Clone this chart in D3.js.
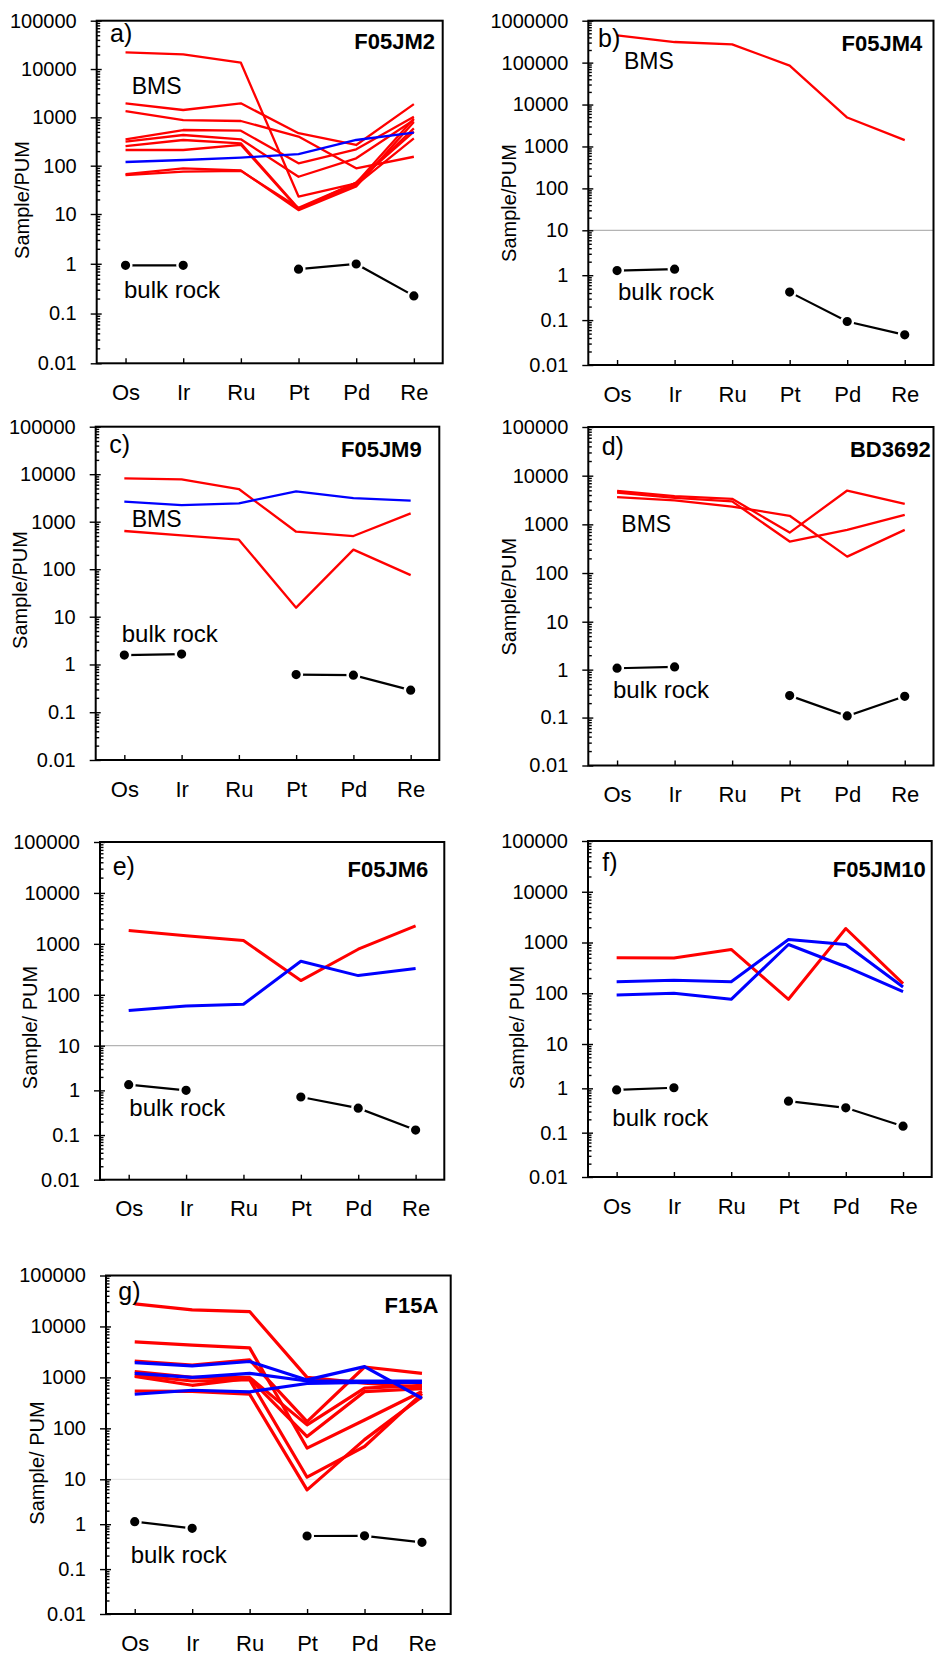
<!DOCTYPE html>
<html>
<head>
<meta charset="utf-8">
<style>
  body { margin: 0; background: #fff; }
  text { font-family: 'Liberation Sans', Arial, Helvetica, sans-serif; fill: #000; }
  .frame { fill: none; stroke: #000; stroke-width: 2; }
  .axis line { stroke: #000; stroke-width: 1.4; }
  .axis .domain { display: none; }
</style>
</head>
<body>
<svg id="chart"></svg>
<script src="https://d3js.org/d3.v7.min.js"></script>
<script>
var width = 938, height = 1656;

var elements = ['Os', 'Ir', 'Ru', 'Pt', 'Pd', 'Re'];

// a) F05JM2
var redA = [
  [22200, 20100, 13500, 23, 43, 590],
  [1950, 1420, 1950, 470, 268, 1880],
  [1350, 880, 840, 400, 88, 153],
  [351, 547, 530, 112, 218, 1030],
  [313, 431, 351, 59, 142, 880],
  [255, 340, 290, 13, 40, 368],
  [211, 211, 270, 12.5, 45, 505],
  [67, 88, 80, 12, 37, 800],
  [64, 75, 78, 13.5, 44, 950]
];
var blueA = [[119, 131, 147, 174, 340, 482]];
var bulkA = [0.93, 0.93, null, 0.78, 0.99, 0.226];

// b) F05JM4
var redB = [[448000, 310000, 273000, 84900, 4900, 1415]];
var blueB = [];
var bulkB = [1.27, 1.36, null, 0.42, 0.093, 0.047];

// c) F05JM9
var redC = [
  [8170, 7780, 4870, 615, 499, 1496],
  [637, 516, 418, 15.5, 258, 75]
];
var blueC = [[2636, 2244, 2433, 4352, 3148, 2767]];
var bulkC = [1.57, 1.65, null, 0.615, 0.596, 0.29];

// d) BD3692
var redD = [
  [4890, 3800, 3350, 678, 4950, 2640],
  [4510, 3500, 2960, 443, 770, 1570],
  [3630, 3100, 2320, 1500, 217, 770]
];
var blueD = [];
var bulkD = [1.07, 1.14, null, 0.287, 0.108, 0.278];

// e) F05JM6
var redE = [[1830, 1436, 1163, 190, 785, 2259]];
var blueE = [[48.9, 60.3, 65, 456, 238, 327]];
var bulkE = [1.34, 1.0, null, 0.71, 0.40, 0.129];

// f) F05JM10
var redF = [[500, 493, 729, 76, 1884, 155]];
var blueF = [
  [169, 180, 169, 1146, 914, 133],
  [92.7, 100, 76, 914, 333, 108]
];
var bulkF = [0.92, 1.03, null, 0.513, 0.364, 0.14];

// g) F15A
var redG = [
  [27800, 21200, 19600, 1000, 770, 640],
  [5000, 4300, 3800, 41, 146, 530],
  [2100, 1750, 2200, 136, 1600, 1200],
  [1300, 1000, 1000, 117, 614, 700],
  [1040, 700, 950, 69, 526, 600],
  [1100, 850, 900, 11, 44, 480],
  [540, 530, 470, 6.2, 60, 420]
];
var blueG = [
  [1950, 1680, 2050, 893, 1630, 390],
  [1200, 1000, 1200, 850, 850, 850],
  [467, 560, 520, 760, 800, 800]
];
var bulkG = [1.14, 0.81, null, 0.546, 0.55, 0.395];

// panel layout
var panels = [
  { letter: 'a)', sample: 'F05JM2', red: redA, blue: blueA, bulk: bulkA, max: 1e5, lw: 2.3, split: null,
    left: 96.7, right: 442.7, top: 20.7, mid: 214, bottom: 363.3, yTitle: 'Sample/PUM',
    titlePos: [21.7, 200], letterPos: [110, 42], namePos: [435, 49], bmsPos: [131.7, 94.3], bulkPos: [124, 297.7] },
  { letter: 'b)', sample: 'F05JM4', red: redB, blue: blueB, bulk: bulkB, max: 1e6, lw: 2.3, split: '#b4b4b4',
    left: 588.3, right: 933.5, top: 20.7, mid: 230.3, bottom: 365, yTitle: 'Sample/PUM',
    titlePos: [509, 203], letterPos: [598, 46.7], namePos: [922.3, 50.5], bmsPos: [624, 69.3], bulkPos: [618, 300] },
  { letter: 'c)', sample: 'F05JM9', red: redC, blue: blueC, bulk: bulkC, max: 1e5, lw: 2.3, split: null,
    left: 95.7, right: 439.3, top: 426.7, mid: 616.7, bottom: 760, yTitle: 'Sample/PUM',
    titlePos: [20, 590], letterPos: [109.3, 453.3], namePos: [421.7, 457.3], bmsPos: [131.7, 526.7], bulkPos: [121.7, 641.7] },
  { letter: 'd)', sample: 'BD3692', red: redD, blue: blueD, bulk: bulkD, max: 1e5, lw: 2.3, split: null,
    left: 588.3, right: 933.5, top: 427, mid: 621.7, bottom: 765.5, yTitle: 'Sample/PUM',
    titlePos: [509, 596.7], letterPos: [601.7, 455], namePos: [930.7, 456.7], bmsPos: [621.3, 531.7], bulkPos: [613, 698.3] },
  { letter: 'e)', sample: 'F05JM6', red: redE, blue: blueE, bulk: bulkE, max: 1e5, lw: 3, split: '#b4b4b4',
    left: 100, right: 444.3, top: 842, mid: 1045.7, bottom: 1179.7, yTitle: 'Sample/ PUM',
    titlePos: [30, 1027.5], letterPos: [112.7, 875], namePos: [428.3, 876.7], bmsPos: null, bulkPos: [129.3, 1116] },
  { letter: 'f)', sample: 'F05JM10', red: redF, blue: blueF, bulk: bulkF, max: 1e5, lw: 3, split: null,
    left: 588, right: 931.7, top: 841, mid: 1044, bottom: 1177, yTitle: 'Sample/ PUM',
    titlePos: [517.3, 1027.5], letterPos: [602.3, 870.5], namePos: [925.7, 876.7], bmsPos: null, bulkPos: [612.3, 1126] },
  { letter: 'g)', sample: 'F15A', red: redG, blue: blueG, bulk: bulkG, max: 1e5, lw: 3.2, split: '#e6e6e6',
    left: 106, right: 450.7, top: 1275.5, mid: 1479.3, bottom: 1614, yTitle: 'Sample/ PUM',
    titlePos: [36.7, 1463], letterPos: [118.3, 1300], namePos: [438.3, 1313.3], bmsPos: null, bulkPos: [130.7, 1563.3] }
];

var svg = d3.select('#chart')
  .attr('width', width)
  .attr('height', height);

svg.append('rect')
  .attr('width', width)
  .attr('height', height)
  .attr('fill', '#fff');

function decades(lo, hi) {
  var out = [];
  for (var v = lo; v <= hi * 1.0001; v *= 10) out.push(+v.toPrecision(3));
  return out;
}

function minors(lo, hi) {
  var out = [];
  decades(lo, hi).slice(0, -1).forEach(function(d) {
    for (var k = 2; k <= 9; k++) out.push(d * k);
  });
  return out;
}

panels.forEach(function(p) {
  var g = svg.append('g');

  var x = d3.scalePoint()
    .domain(elements)
    .range([p.left, p.right])
    .padding(0.5);

  // upper chart (BMS), lower chart (bulk rock)
  var yUp = d3.scaleLog().domain([10, p.max]).range([p.mid, p.top]);
  var yLo = d3.scaleLog().domain([0.01, 10]).range([p.bottom, p.mid]);

  // separator at 10
  if (p.split) {
    g.append('line')
      .attr('x1', p.left).attr('x2', p.right)
      .attr('y1', p.mid).attr('y2', p.mid)
      .attr('stroke', p.split)
      .attr('stroke-width', 1.2);
  }

  // y axes: labelled decades outside, minor ticks inside
  [[yUp, decades(10, p.max)], [yLo, decades(0.01, 1)]].forEach(function(pair) {
    var sc = pair[0], vals = pair[1];
    g.append('g')
      .attr('class', 'axis')
      .attr('transform', 'translate(' + p.left + ',0)')
      .call(d3.axisLeft(sc).tickValues(vals).tickSizeInner(6).tickSizeOuter(0).tickPadding(14)
        .tickFormat(function(d) { return String(d); }))
      .attr('font-size', 20)
      .attr('font-family', null);

    g.append('g')
      .attr('class', 'axis')
      .attr('transform', 'translate(' + p.left + ',0)')
      .call(d3.axisRight(sc).tickValues(vals).tickSizeInner(5).tickSizeOuter(0).tickFormat(''));

    var d0 = sc.domain();
    g.append('g')
      .attr('class', 'axis')
      .attr('transform', 'translate(' + p.left + ',0)')
      .call(d3.axisRight(sc).tickValues(minors(d0[0], d0[1])).tickSizeInner(3.5).tickSizeOuter(0).tickFormat(''))
      .selectAll('line').attr('stroke-width', 1);
  });

  // x axis, ticks pointing inward
  g.append('g')
    .attr('class', 'axis')
    .attr('transform', 'translate(0,' + p.bottom + ')')
    .call(d3.axisBottom(x).tickSizeInner(-5).tickSizeOuter(0).tickPadding(21))
    .attr('font-size', 22)
    .attr('font-family', null);

  // frame
  g.append('rect')
    .attr('class', 'frame')
    .attr('x', p.left).attr('y', p.top)
    .attr('width', p.right - p.left)
    .attr('height', p.bottom - p.top);

  var lineUp = d3.line()
    .x(function(d, i) { return x(elements[i]); })
    .y(function(d) { return yUp(d); });

  var lineLo = d3.line()
    .defined(function(d) { return d != null; })
    .x(function(d, i) { return x(elements[i]); })
    .y(function(d) { return yLo(d); });

  g.selectAll('.bms-red')
    .data(p.red)
    .enter().append('path')
      .attr('class', 'bms-red')
      .attr('d', lineUp)
      .attr('fill', 'none')
      .attr('stroke', '#ff0000')
      .attr('stroke-width', p.lw)
      .attr('stroke-linejoin', 'round');

  g.selectAll('.bms-blue')
    .data(p.blue)
    .enter().append('path')
      .attr('class', 'bms-blue')
      .attr('d', lineUp)
      .attr('fill', 'none')
      .attr('stroke', '#0000ff')
      .attr('stroke-width', p.lw)
      .attr('stroke-linejoin', 'round');

  // bulk rock
  g.append('path')
    .attr('d', lineLo(p.bulk))
    .attr('fill', 'none')
    .attr('stroke', '#000')
    .attr('stroke-width', 2.2);

  g.selectAll('.dot')
    .data(p.bulk.map(function(v, i) { return { el: elements[i], v: v }; }).filter(function(d) { return d.v != null; }))
    .enter().append('circle')
      .attr('class', 'dot')
      .attr('cx', function(d) { return x(d.el); })
      .attr('cy', function(d) { return yLo(d.v); })
      .attr('r', 5.8)
      .attr('fill', '#000')
      .attr('stroke', '#fff')
      .attr('stroke-width', 2.4);

  // texts
  g.append('text')
    .attr('transform', 'translate(' + p.titlePos[0] + ',' + p.titlePos[1] + ') rotate(-90)')
    .attr('text-anchor', 'middle')
    .attr('dominant-baseline', 'central')
    .attr('font-size', 20)
    .text(p.yTitle);

  g.append('text')
    .attr('x', p.letterPos[0]).attr('y', p.letterPos[1])
    .attr('font-size', 25)
    .text(p.letter);

  g.append('text')
    .attr('x', p.namePos[0]).attr('y', p.namePos[1])
    .attr('text-anchor', 'end')
    .attr('font-size', 22)
    .attr('font-weight', 'bold')
    .text(p.sample);

  if (p.bmsPos) {
    g.append('text')
      .attr('x', p.bmsPos[0]).attr('y', p.bmsPos[1])
      .attr('font-size', 23)
      .text('BMS');
  }

  g.append('text')
    .attr('x', p.bulkPos[0]).attr('y', p.bulkPos[1])
    .attr('font-size', 24)
    .text('bulk rock');
});
</script>
</body>
</html>
